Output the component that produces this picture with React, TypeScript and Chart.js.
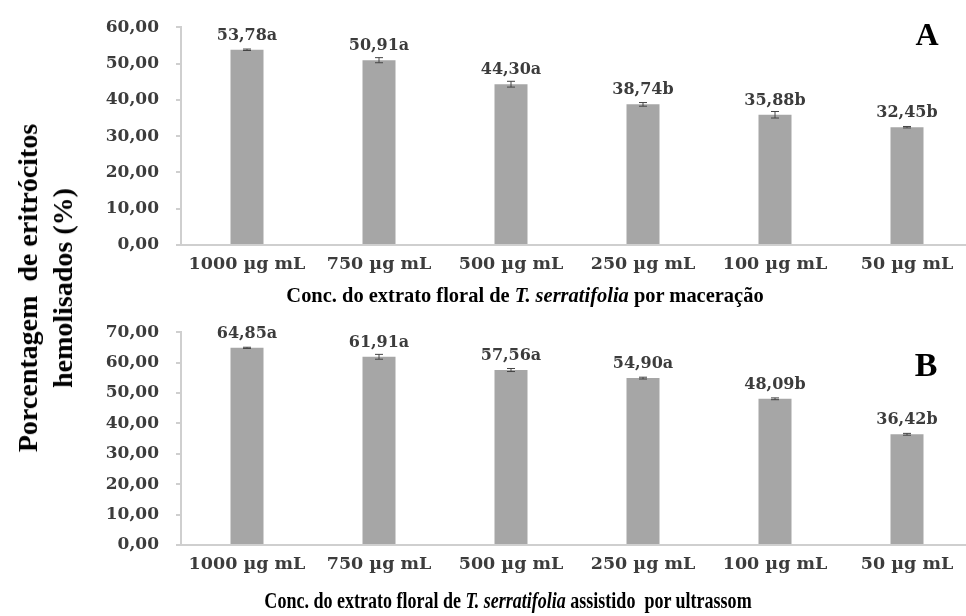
import React, { useEffect, useLayoutEffect, useRef, useState } from 'react';
import { Chart, registerables } from 'chart.js';

Chart.register(...registerables);

const categories = ['1000 µg mL', '750 µg mL', '500 µg mL', '250 µg mL', '100 µg mL', '50 µg mL'];

const valuesA = [53.78, 50.91, 44.3, 38.74, 35.88, 32.45];
const errorsA = [0.2, 0.7, 0.8, 0.5, 0.9, 0.2];
const lettersA = ['a', 'a', 'a', 'b', 'b', 'b'];

const valuesB = [64.85, 61.91, 57.56, 54.9, 48.09, 36.42];
const errorsB = [0.2, 0.8, 0.5, 0.3, 0.3, 0.3];
const lettersB = ['a', 'a', 'a', 'a', 'b', 'b'];

const yMaxA = 60;
const yMaxB = 70;
const yStep = 10;

const yTitleLine1 = 'Porcentagem\u00a0 de eritrócitos';
const yTitleLine2 = 'hemolisados (%)';
const panelLetterA = 'A';
const panelLetterB = 'B';

const fmt = (v: number) => v.toFixed(2).replace('.', ',');

const Y_TICK_FONT = { family: '"DejaVu Serif", serif', size: 17, weight: 'bold' as const };
const X_TICK_FONT = { family: '"DejaVu Serif", serif', size: 17.5, weight: 'bold' as const };
const TICK_COLOR = '#3c3c3c';
const AXIS_COLOR = '#cfcfcf';

const errLabelPlugin = {
  id: 'errLabels',
  afterDatasetsDraw(chart: any, _args: any, opts: any) {
    const { ctx } = chart;
    const meta = chart.getDatasetMeta(0);
    const ys = chart.scales.y;
    const values: number[] = opts.values;
    const errors: number[] = opts.errors;
    const letters: string[] = opts.letters;
    ctx.save();
    meta.data.forEach((bar: any, i: number) => {
      const x = bar.x;
      const v = values[i];
      const yHi = ys.getPixelForValue(v + errors[i]);
      const yLo = ys.getPixelForValue(v - errors[i]);
      ctx.strokeStyle = '#444444';
      ctx.lineWidth = 1;
      ctx.beginPath();
      ctx.moveTo(x, yHi);
      ctx.lineTo(x, yLo);
      ctx.moveTo(x - 4, yHi);
      ctx.lineTo(x + 4, yHi);
      ctx.moveTo(x - 4, yLo);
      ctx.lineTo(x + 4, yLo);
      ctx.stroke();
      ctx.fillStyle = TICK_COLOR;
      ctx.font = 'bold 16px "DejaVu Serif", serif';
      ctx.textAlign = 'center';
      ctx.textBaseline = 'alphabetic';
      ctx.fillText(fmt(v) + letters[i], x, bar.y - 10);
    });
    ctx.restore();
  },
};

type PanelProps = {
  values: number[];
  errors: number[];
  letters: string[];
  yMax: number;
  height: number;
  topPad: number;
  xHeight: number;
};

function Panel({ values, errors, letters, yMax, height, topPad, xHeight }: PanelProps) {
  const ref = useRef<HTMLCanvasElement | null>(null);
  useEffect(() => {
    if (!ref.current) return;
    const chart = new Chart(ref.current, {
      type: 'bar',
      data: {
        labels: categories,
        datasets: [
          {
            data: values,
            backgroundColor: '#a6a6a6',
            borderWidth: 0,
            barPercentage: 0.5,
            categoryPercentage: 0.5,
          },
        ],
      },
      options: {
        animation: false,
        responsive: false,
        maintainAspectRatio: false,
        layout: { padding: { top: topPad, right: 17, left: 0, bottom: 0 } },
        plugins: {
          legend: { display: false },
          tooltip: { enabled: false },
          errLabels: { values, errors, letters },
        } as any,
        scales: {
          x: {
            grid: { display: false, drawTicks: false },
            border: { display: true, color: AXIS_COLOR, width: 2 },
            ticks: { font: X_TICK_FONT, color: TICK_COLOR, padding: 9, maxRotation: 0, autoSkip: false },
            afterFit: (s: any) => {
              s.height = xHeight;
            },
          },
          y: {
            min: 0,
            max: yMax,
            ticks: { stepSize: yStep, font: Y_TICK_FONT, color: TICK_COLOR, padding: 17, callback: (v: any) => fmt(Number(v)) },
            grid: { drawOnChartArea: false, drawTicks: true, tickLength: 5, color: AXIS_COLOR, lineWidth: 2 },
            border: { display: true, color: AXIS_COLOR, width: 2 },
            afterFit: (s: any) => {
              s.width = 181;
            },
          },
        },
      },
      plugins: [errLabelPlugin],
    });
    return () => chart.destroy();
  }, []);
  return <canvas ref={ref} width={990} height={height} style={{ display: 'block', width: 990, height }} />;
}

function FitText({ text, cx, cy, size, width }: { text: React.ReactNode; cx: number; cy: number; size: number; width: number }) {
  const ref = useRef<HTMLDivElement | null>(null);
  const [scale, setScale] = useState(1);
  useLayoutEffect(() => {
    if (ref.current) {
      const w = ref.current.offsetWidth;
      if (w > 0) setScale(width / w);
    }
  }, []);
  return (
    <div
      ref={ref}
      style={{
        position: 'absolute',
        left: cx,
        top: cy,
        transform: `translate(-50%, -50%) scaleX(${scale})`,
        whiteSpace: 'nowrap',
        font: `bold ${size}px "Liberation Serif", "Times New Roman", serif`,
        color: '#000',
        lineHeight: 1,
      }}
    >
      {text}
    </div>
  );
}

export default function App() {
  return (
    <div style={{ position: 'absolute', left: 0, top: 0, width: 966, height: 616, overflow: 'hidden', background: '#fff' }}>
      <div style={{ position: 'absolute', left: 0, top: 0 }}>
        <Panel values={valuesA} errors={errorsA} letters={lettersA} yMax={yMaxA} height={305} topPad={21} xHeight={60} />
      </div>
      <div style={{ position: 'absolute', left: 0, top: 305 }}>
        <Panel values={valuesB} errors={errorsB} letters={lettersB} yMax={yMaxB} height={311} topPad={27} xHeight={71} />
      </div>
      <FitText
        cx={525}
        cy={295}
        size={22}
        width={477}
        text={
          <span>
            Conc. do extrato floral de <i>T. serratifolia</i> por maceração
          </span>
        }
      />
      <FitText
        cx={508}
        cy={600}
        size={24}
        width={487}
        text={
          <span>
            Conc. do extrato floral de <i>T. serratifolia</i> assistido&nbsp; por ultrassom
          </span>
        }
      />
      <div
        style={{
          position: 'absolute',
          left: 45,
          top: 288,
          transform: 'translate(-50%, -50%) rotate(-90deg)',
          whiteSpace: 'nowrap',
          textAlign: 'center',
          font: 'bold 28px "Liberation Serif", "Times New Roman", serif',
          lineHeight: '35px',
          color: '#000',
        }}
      >
        <div>{yTitleLine1}</div>
        <div>{yTitleLine2}</div>
      </div>
      <div
        style={{
          position: 'absolute',
          left: 927,
          top: 34,
          transform: 'translate(-50%, -50%)',
          font: 'bold 32px "Liberation Serif", serif',
          color: '#000',
          lineHeight: 1,
        }}
      >
        {panelLetterA}
      </div>
      <div
        style={{
          position: 'absolute',
          left: 926,
          top: 365,
          transform: 'translate(-50%, -50%)',
          font: 'bold 34px "Liberation Serif", serif',
          color: '#000',
          lineHeight: 1,
        }}
      >
        {panelLetterB}
      </div>
    </div>
  );
}
